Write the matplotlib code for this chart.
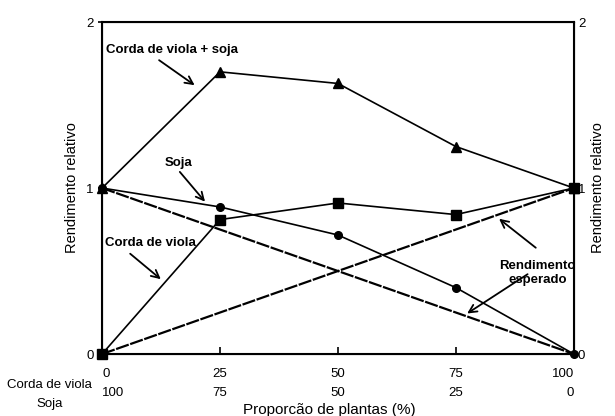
import matplotlib
matplotlib.use("Agg")
import matplotlib.pyplot as plt

plt.rcParams['font.family'] = ['Liberation Sans', 'DejaVu Sans']

# Proporção de corda de viola (%) / soja (%)
proporcao = [0, 25, 50, 75, 100]
soja_pct = [100, 75, 50, 25, 0]

# Rendimento relativo observado
mistura = [1.0, 1.70, 1.63, 1.25, 1.0]      # Corda de viola + soja
soja = [1.0, 0.886, 0.717, 0.40, 0.0]
corda = [0.0, 0.81, 0.91, 0.84, 1.0]

# Rendimento esperado (retas)
esp_x = [0, 100]
esp_soja = [1.0, 0.0]
esp_corda = [0.0, 1.0]

fig = plt.figure(figsize=(6.15, 4.16), dpi=100)
ax = fig.add_axes([0.166, 0.149, 0.767, 0.798])

ax.plot(esp_x, esp_soja, color='black', lw=1.6, dashes=(6, 0.7))
ax.plot(esp_x, esp_corda, color='black', lw=1.6, dashes=(6, 0.7))
ax.plot(proporcao, mistura, color='black', lw=1.2, marker='^', ms=7, clip_on=False)
ax.plot(proporcao, soja, color='black', lw=1.2, marker='o', ms=5.5, clip_on=False)
ax.plot(proporcao, corda, color='black', lw=1.2, marker='s', ms=7, clip_on=False)

ax.set_xlim(0, 100)
ax.set_ylim(0, 2)
for s in ax.spines.values():
    s.set_linewidth(1.5)

ax.set_xticks(proporcao)
labels = ax.set_xticklabels([f"{a}\n{b}" for a, b in zip(proporcao, soja_pct)],
                            fontsize=9.5, linespacing=1.75)
labels[0].set_ha('left')
labels[0].set_multialignment('left')
labels[-1].set_ha('right')
labels[-1].set_multialignment('right')
ax.tick_params(axis='x', direction='in', length=5, width=1.2, pad=10)
ax.set_yticks([0, 1, 2])
ax.tick_params(axis='y', direction='out', length=3, width=1.2, labelsize=9.5, pad=3)
ax.set_ylabel("Rendimento relativo", fontsize=10.5, labelpad=5)
ax.set_xlabel("Proporcão de plantas (%)", fontsize=11, labelpad=3)
ax.xaxis.label.set_x(0.481)

ax.text(-0.112, -0.075, "Corda de viola\nSoja", transform=ax.transAxes,
        ha='center', va='top', fontsize=9.5, linespacing=1.75)

ax2 = ax.twinx()
ax2.set_ylim(0, 2)
ax2.set_yticks([0, 1, 2])
ax2.tick_params(axis='y', length=0, labelsize=9.5, pad=3)
ax2.set_ylabel("Rendimento relativo", fontsize=10.5, labelpad=4)

bold = dict(fontsize=9.5, fontweight='bold', ha='center', va='center')
arrow = dict(arrowstyle='->', color='black', lw=1.3, mutation_scale=14)

ax.text(14.8, 1.83, "Corda de viola + soja", **bold)
ax.annotate("", xy=(20.1, 1.61), xytext=(11.6, 1.78), arrowprops=arrow)

ax.text(16.3, 1.15, "Soja", **bold)
ax.annotate("", xy=(22.2, 0.905), xytext=(16.1, 1.11), arrowprops=arrow)

ax.text(10.2, 0.67, "Corda de viola", **bold)
ax.annotate("", xy=(12.9, 0.44), xytext=(5.5, 0.615), arrowprops=arrow)

ax.text(92.3, 0.49, "Rendimento\nesperado", linespacing=1.2, **bold)
ax.annotate("", xy=(83.7, 0.825), xytext=(92.4, 0.63), arrowprops=arrow)
ax.annotate("", xy=(76.9, 0.235), xytext=(90.7, 0.49), arrowprops=arrow)

fig.savefig("out.png", dpi=100)
